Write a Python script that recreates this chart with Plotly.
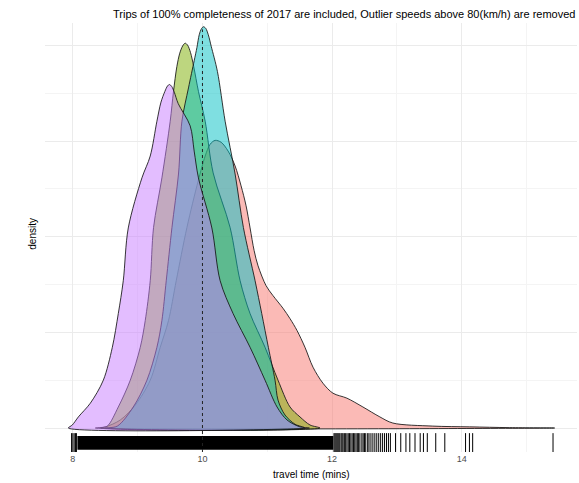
import plotly.graph_objects as go

# ---------------- data ----------------
group_names = ["group 1", "group 2", "group 3", "group 4"]
group_colors = ["#F8766D", "#7CAE00", "#00BFC4", "#C77CFF"]

# travel time (mins) and density for each group
red_x = [8.347, 8.501, 8.732, 8.963, 9.194, 9.348, 9.476, 9.595, 9.760, 9.934,
         10.042, 10.119, 10.196, 10.288, 10.396, 10.504, 10.596, 10.673, 10.735,
         10.797, 10.858, 10.982, 11.089, 11.243, 11.351, 11.459, 11.582, 11.706,
         11.860, 12.014, 12.230, 12.476, 12.738, 12.938, 13.555, 14.125, 14.741, 15.435]
red_y = [0.0, 0.003, 0.021, 0.060, 0.125, 0.211, 0.281, 0.385, 0.524, 0.646,
         0.711, 0.742, 0.752, 0.747, 0.724, 0.685, 0.633, 0.581, 0.523,
         0.464, 0.424, 0.372, 0.346, 0.313, 0.286, 0.255, 0.211, 0.159,
         0.117, 0.091, 0.078, 0.055, 0.029, 0.013, 0.005, 0.003, 0.001, 0.0]

olive_x = [8.424, 8.532, 8.701, 8.886, 9.040, 9.117, 9.194, 9.245, 9.374, 9.502,
           9.553, 9.605, 9.650, 9.695, 9.733, 9.770, 9.815, 9.865, 9.938, 10.042,
           10.165, 10.427, 10.581, 10.735, 10.966, 11.166, 11.351, 11.505, 11.659, 11.814]
olive_y = [0.0, 0.005, 0.055, 0.125, 0.211, 0.281, 0.385, 0.524, 0.654, 0.802,
           0.880, 0.945, 0.980, 0.999, 1.006, 1.001, 0.982, 0.945, 0.880, 0.802,
           0.667, 0.524, 0.385, 0.299, 0.211, 0.125, 0.055, 0.029, 0.008, 0.0]

cyan_x = [8.501, 8.686, 8.932, 9.143, 9.297, 9.374, 9.441, 9.529, 9.630, 9.683,
          9.784, 9.872, 9.915, 9.950, 9.985, 10.015, 10.050, 10.090, 10.135,
          10.231, 10.350, 10.504, 10.632, 10.812, 10.915, 11.017, 11.120, 11.166,
          11.274, 11.428, 11.582]
cyan_y = [0.0, 0.005, 0.055, 0.125, 0.211, 0.281, 0.385, 0.524, 0.664, 0.802,
          0.889, 0.960, 0.995, 1.028, 1.044, 1.049, 1.045, 1.028, 0.998,
          0.932, 0.802, 0.664, 0.524, 0.385, 0.299, 0.211, 0.125, 0.073,
          0.034, 0.010, 0.0]

purple_x = [7.931, 7.992, 8.085, 8.270, 8.470, 8.609, 8.701, 8.778, 8.855, 9.066,
            9.194, 9.297, 9.360, 9.420, 9.460, 9.490, 9.525, 9.565, 9.626, 9.810,
            9.872, 9.938, 10.145, 10.273, 10.473, 10.735, 10.966, 11.151, 11.305,
            11.505, 11.650]
purple_y = [0.0, 0.008, 0.029, 0.065, 0.125, 0.211, 0.299, 0.385, 0.523, 0.654,
            0.711, 0.802, 0.852, 0.880, 0.894, 0.898, 0.893, 0.878, 0.848, 0.790,
            0.724, 0.654, 0.523, 0.385, 0.299, 0.211, 0.125, 0.055, 0.021,
            0.003, 0.0]

# rug of individual observations
rug_dense = [8.07, 12.02]           # span where the rug is solid black
rug_ticks = [7.98, 8.00, 8.02, 8.04, 8.055,
             12.03, 12.045, 12.06, 12.075, 12.09, 12.105, 12.12, 12.14, 12.155,
             12.17, 12.19, 12.21, 12.23, 12.25, 12.27, 12.29, 12.31, 12.33, 12.35,
             12.37, 12.39, 12.41, 12.43, 12.46, 12.48, 12.50, 12.52, 12.55, 12.57,
             12.60, 12.63, 12.66, 12.69, 12.72, 12.75, 12.78, 12.81, 12.84, 12.87,
             12.90, 12.98, 13.06, 13.14, 13.20, 13.28, 13.36, 13.41, 13.47,
             13.60, 13.74, 14.06, 14.12, 14.17, 15.41]

ref_time = 10
x_ticks = [8, 10, 12, 14]
x_minor = [9, 11, 13, 15]
y_major = [0, 0.25, 0.5, 0.75, 1.0]
y_minor = [0.125, 0.375, 0.625, 0.875]

subtitle = "Trips of 100% completeness of 2017 are included, Outlier speeds above 80(km/h) are removed"
x_title = "travel time (mins)"
y_title = "density"

# ---------------- figure ----------------
FONT = "Liberation Sans, Arial, Helvetica, sans-serif"


def rgba(hex_color, a):
    h = hex_color.lstrip("#")
    r, g, b = int(h[0:2], 16), int(h[2:4], 16), int(h[4:6], 16)
    return f"rgba({r},{g},{b},{a})"


series = [(red_x, red_y), (olive_x, olive_y), (cyan_x, cyan_y), (purple_x, purple_y)]

fig = go.Figure()
for (xs, ys), name, col in zip(series, group_names, group_colors):
    fig.add_trace(go.Scatter(
        x=list(xs) + [xs[0]], y=list(ys) + [0],
        mode="lines", name=name, fill="toself",
        fillcolor=rgba(col, 0.5),
        line=dict(color="rgba(20,20,20,0.85)", width=1, shape="spline", smoothing=0.9),
        showlegend=False, hoverinfo="skip",
    ))

# rug ticks
fig.add_trace(go.Scatter(
    x=rug_ticks, y=[-0.039] * len(rug_ticks), mode="markers",
    marker=dict(symbol="line-ns", size=14, line=dict(color="black", width=1)),
    showlegend=False, hoverinfo="skip",
))

fig.add_shape(type="rect", xref="x", yref="y", x0=rug_dense[0], x1=rug_dense[1],
              y0=-0.057, y1=-0.021, fillcolor="black", line=dict(width=0))

fig.add_shape(type="line", xref="x", yref="paper", x0=ref_time, x1=ref_time, y0=0, y1=0.985,
              line=dict(color="#222222", width=1, dash="3px,3px"))

fig.add_annotation(text=subtitle, xref="paper", yref="paper", x=1.0, y=1.021,
                   xanchor="right", yanchor="middle", showarrow=False,
                   font=dict(family=FONT, size=11, color="black"))
fig.add_annotation(text=x_title, xref="paper", yref="paper", x=0.5, y=-0.0513,
                   xanchor="center", yanchor="middle", showarrow=False,
                   font=dict(family=FONT, size=10, color="black"))
fig.add_annotation(text=y_title, xref="paper", yref="paper", x=-0.0235, y=0.51,
                   xanchor="center", yanchor="middle", showarrow=False, textangle=-90,
                   font=dict(family=FONT, size=10, color="black"))

fig.update_layout(
    width=579, height=483,
    margin=dict(l=45, r=2, t=23, b=31),
    paper_bgcolor="white", plot_bgcolor="white",
    font=dict(family=FONT),
    xaxis=dict(range=[7.57, 15.78], tickvals=x_ticks, ticktext=[str(v) for v in x_ticks],
               showgrid=True, gridcolor="#ebebeb", gridwidth=1,
               minor=dict(tickvals=x_minor, showgrid=True, gridcolor="#f4f4f4", gridwidth=0.7),
               zeroline=False, showline=False, ticks="",
               tickfont=dict(family=FONT, size=9, color="#4d4d4d")),
    yaxis=dict(range=[-0.0627, 1.0588], tickvals=y_major, showticklabels=False,
               showgrid=True, gridcolor="#ebebeb", gridwidth=1,
               minor=dict(tickvals=y_minor, showgrid=True, gridcolor="#f4f4f4", gridwidth=0.7),
               zeroline=False, showline=False, ticks=""),
)

fig.write_html("out.html")
